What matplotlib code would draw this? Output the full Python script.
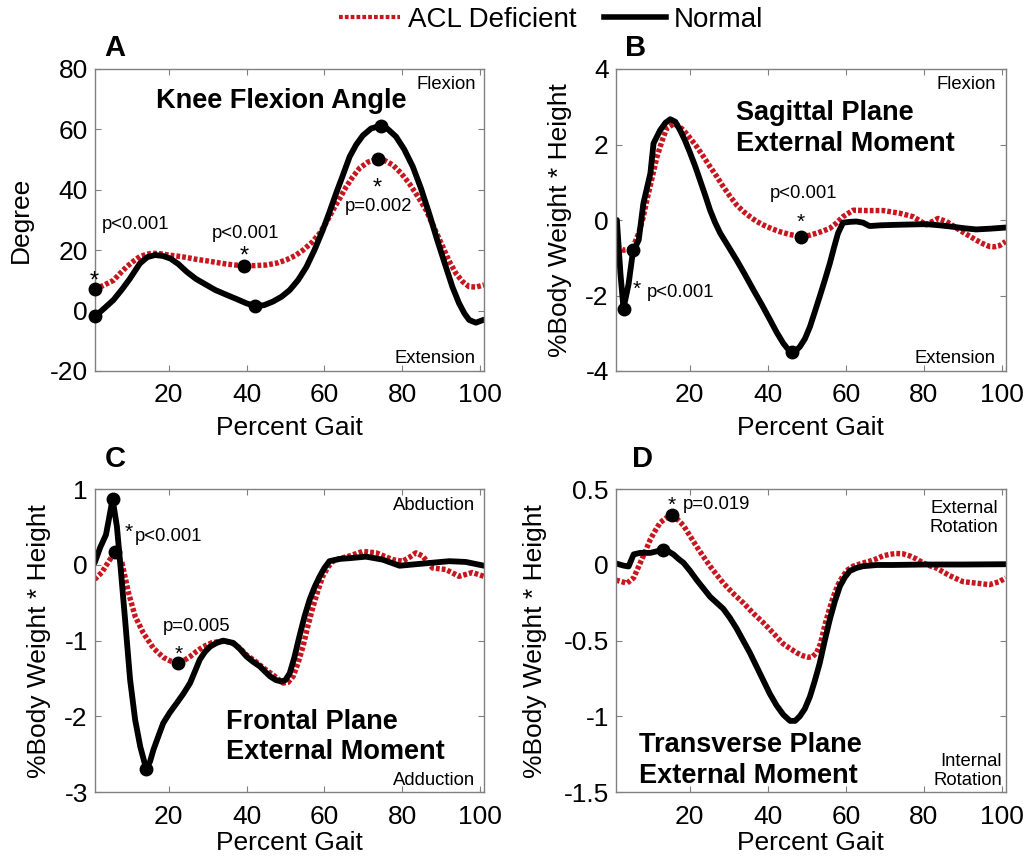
import matplotlib
matplotlib.use('Agg')
import matplotlib.pyplot as plt
from matplotlib.lines import Line2D

plt.rcParams['font.family'] = ['Liberation Sans', 'DejaVu Sans']
plt.rcParams['axes.unicode_minus'] = False

RED = '#c8161e'
GRAY = '#808080'

# ---------------- Panel A : Knee flexion angle ----------------
a_norm_x = [1, 3.5, 5.8, 8, 10, 12.6, 14.5, 16.5, 18.5, 20.5, 22.5, 24.6, 27, 29.7, 32, 34.9, 37.5, 40,
            42.3, 44.5, 46.8, 49, 51.1, 53.3, 55.4, 57.5, 59.6, 61.3, 63, 64.8, 66.5, 68.2, 69.9, 72,
            74.1, 76.2, 78.4, 80.5, 82.7, 84.8, 86.9, 89, 91.2, 92.9, 94.6, 96, 97.2, 98.9, 101]
a_norm_y = [-2, 0.8, 3.5, 7, 10.5, 15.6, 17.7, 18.4, 18.1, 17.2, 15.4, 12.9, 10.5, 8.5, 6.8, 5.2, 3.8, 2.4,
            1.5, 1.8, 3, 4.6, 6.8, 10.2, 14.5, 20.2, 26.7, 32.6, 38.8, 45, 51, 55, 58, 60.3,
            61.1, 60.2, 57.6, 53.4, 47.7, 40.5, 32.2, 23.3, 14.5, 7.8, 2.4, -1, -3.1, -4, -3]
a_acl_x = [1, 3.5, 5.8, 7.5, 9.2, 11, 12.6, 14.5, 16, 18, 20, 22.5, 24.6, 27, 29.7, 32, 34.9, 37, 39.4,
           42, 45.1, 48, 50.2, 52.5, 54.5, 56.8, 58.8, 60.5, 62.2, 64, 65.6, 67.3, 69, 71.2, 73.5,
           75.5, 77.6, 79.7, 81.8, 84, 86.1, 88.2, 90.4, 92, 93.8, 95.5, 97.2, 99, 101]
a_acl_y = [7, 8.5, 10, 12.3, 14.5, 16.4, 17.9, 18.7, 19, 18.8, 18.4, 18, 17.6, 17, 16.5, 16, 15.4, 15.1, 14.9,
           14.9, 15.1, 15.8, 16.8, 18.2, 20, 22.6, 25.6, 29.2, 33.3, 37.3, 41, 44.3, 47.1, 49.2, 50.1,
           49.7, 48.2, 45.5, 42.1, 37.8, 33.3, 27.4, 21.2, 16.5, 12.3, 9.6, 7.9, 7.8, 8.5]
a_dot_x = [1, 1, 39.4, 42.3, 74.6, 73.7]
a_dot_y = [7.1, -1.9, 14.9, 1.5, 61.1, 50.1]

# ---------------- Panel B : Sagittal plane moment ----------------
b_norm_x = [1.3, 2.2, 3.0, 4.3, 5.4, 6.9, 8.1, 9.9, 10.7, 12.4, 13.8, 15, 16.3, 17.5, 18.8, 20.1, 21.4,
            22.6, 24, 25.2, 26.5, 27.8, 30, 32, 34, 36.3, 38.5, 40.6, 42.3, 44, 45, 46.1, 47.2, 48.2, 49.5,
            50.8, 52, 53.3, 54.6, 55.9, 57, 58, 59.3, 61, 62.7, 64.4, 66.1, 69, 72.1, 76, 80.6, 84, 87.5,
            90.5, 93.4, 97, 101]
b_norm_y = [0, -1.4, -2.34, -1.7, -0.85, -0.53, 0.44, 1.24, 2.03, 2.38, 2.58, 2.67, 2.6, 2.38, 2.1, 1.77, 1.42,
            1.06, 0.64, 0.26, -0.07, -0.35, -0.72, -1.06, -1.42, -1.85, -2.25, -2.65, -2.98, -3.27, -3.4,
            -3.49, -3.46, -3.36, -3.15, -2.83, -2.45, -2.03, -1.6, -1.15, -0.72, -0.35, -0.07, -0.05, -0.04,
            -0.07, -0.16, -0.14, -0.13, -0.12, -0.11, -0.14, -0.18, -0.22, -0.25, -0.23, -0.2]
b_acl_x = [1.3, 3, 5.2, 6.9, 8, 9, 10.3, 11.6, 12.9, 14.1, 15.8, 17, 18.4, 20, 21.8, 23.5, 25.2, 27, 28.6,
           30.3, 32, 33.7, 35.4, 37, 38.8, 41, 43.1, 45.5, 48.4, 50.5, 52.5, 54.2, 55.9, 57.6, 59.3, 61.9,
           65.3, 69.6, 73.8, 77.2, 79, 80.6, 82, 83.6, 85.8, 87.5, 89.2, 91.3, 93.4, 95, 96.8, 98, 99.4, 101]
b_acl_y = [-0.7, -0.8, -0.78, -0.35, 0.05, 0.53, 1.1, 1.68, 2.1, 2.43, 2.54, 2.5, 2.38, 2.18, 1.94, 1.68, 1.41,
           1.14, 0.88, 0.63, 0.4, 0.23, 0.09, -0.03, -0.13, -0.23, -0.31, -0.38, -0.44, -0.41, -0.35, -0.29,
           -0.22, -0.08, 0.09, 0.26, 0.25, 0.25, 0.18, 0.09, -0.02, -0.13, -0.05, 0.04, -0.04, -0.15, -0.27,
           -0.4, -0.53, -0.62, -0.7, -0.71, -0.68, -0.57]
b_dot_x = [3.0, 5.4, 48.4, 46.1]
b_dot_y = [-2.35, -0.8, -0.44, -3.49]

# ---------------- Panel C : Frontal plane moment ----------------
c_norm_x = [1, 2.4, 3.9, 5.6, 6.7, 7.7, 8.8, 10.1, 11.4, 12.7, 14.2, 15.2, 16.1, 17.3, 18.6, 20.3, 22, 23.8,
            25.5, 26.8, 28, 29.3, 30.6, 32.3, 34, 36.6, 38.3, 40, 41.7, 43.4, 46, 47.5, 49, 50, 51.1, 52.3,
            53.6, 54.9, 56.2, 57.5, 58.8, 60, 61.3, 63.9, 66.5, 70.7, 75, 79.3, 83.5, 87.8, 92.1, 96.3, 101]
c_norm_y = [0.03, 0.23, 0.4, 0.87, 0.51, -0.06, -0.72, -1.52, -2.05, -2.4, -2.69, -2.6, -2.44, -2.27, -2.09,
            -1.95, -1.83, -1.7, -1.56, -1.4, -1.25, -1.15, -1.08, -1.03, -1.0, -1.03, -1.11, -1.21, -1.28,
            -1.34, -1.47, -1.52, -1.54, -1.52, -1.43, -1.22, -0.94, -0.68, -0.46, -0.29, -0.15, -0.04, 0.05,
            0.08, 0.09, 0.11, 0.07, -0.01, 0.01, 0.03, 0.05, 0.04, -0.01]
c_acl_x = [1, 2.8, 4.9, 6.2, 8, 9.7, 11.4, 13.5, 16.1, 18.6, 20.5, 22.5, 24, 25.5, 27.2, 28.9, 31, 33.1, 34.9,
           36.6, 38.3, 40, 42.2, 44.3, 47, 49.4, 50.7, 52, 53.2, 54.5, 55.8, 57.1, 58.4, 59.6, 60.9, 62.2,
           64.3, 66.5, 69.9, 73.3, 77.6, 80.1, 81.8, 83.5, 85.2, 87.8, 91.2, 94.6, 98, 101]
c_acl_y = [-0.19, -0.1, 0.07, 0.17, 0.03, -0.37, -0.68, -0.9, -1.1, -1.22, -1.27, -1.3, -1.26, -1.21, -1.14,
           -1.08, -1.03, -1.01, -1.01, -1.04, -1.1, -1.19, -1.27, -1.36, -1.46, -1.56, -1.55, -1.47, -1.3,
           -1.08, -0.8, -0.55, -0.33, -0.15, -0.03, 0.05, 0.09, 0.12, 0.18, 0.16, 0.07, 0.05, 0.1, 0.16,
           0.12, -0.04, -0.06, -0.15, -0.1, -0.15]
c_dot_x = [5.6, 6.2, 22.5, 14.2]
c_dot_y = [0.87, 0.17, -1.3, -2.69]

# ---------------- Panel D : Transverse plane moment ----------------
d_norm_x = [1.07, 3, 4.3, 5.6, 7.3, 9.9, 11.5, 13, 14.5, 15.8, 17.1, 18.4, 20.1, 21.8, 23.5, 25.2, 26.9, 28.6,
            30.3, 32, 33.7, 35.4, 37.1, 38.8, 40.5, 42.3, 44, 45.7, 47, 48.2, 49.5, 50.8, 52, 53.3, 54.6,
            55.9, 57.2, 58.5, 59.8, 61, 62.7, 64.4, 68, 72.1, 80, 90, 101]
d_norm_y = [0.01, -0.004, -0.01, 0.07, 0.08, 0.08, 0.09, 0.1, 0.09, 0.07, 0.04, 0.014, -0.04, -0.1, -0.155,
            -0.21, -0.25, -0.29, -0.35, -0.42, -0.5, -0.58, -0.67, -0.76, -0.85, -0.93, -0.99, -1.03, -1.03,
            -1.0, -0.95, -0.87, -0.77, -0.65, -0.5, -0.36, -0.24, -0.14, -0.08, -0.04, -0.02, -0.008, 0.0,
            0.0, 0.003, 0.003, 0.005]
d_acl_x = [1.07, 2.5, 3.9, 5.6, 7.3, 8.6, 9.9, 11.2, 12.4, 13.9, 15.4, 16.9, 18.4, 20.1, 21.8, 23.5, 25.2,
           26.9, 28.6, 31.2, 33.7, 36.3, 38.8, 41.4, 43.9, 45.6, 47.4, 49, 50.4, 51.5, 52.5, 53.5, 54.6,
           55.7, 56.8, 58, 59.3, 60.6, 61.9, 64, 66.1, 67.8, 69.5, 71.2, 72.9, 74.6, 76.4, 78.1, 79.8, 81.5,
           83.2, 84.9, 86.6, 88.3, 90, 93.4, 96.8, 99.4, 101]
d_acl_y = [-0.1, -0.11, -0.12, -0.085, 0.014, 0.09, 0.17, 0.23, 0.28, 0.31, 0.32, 0.3, 0.26, 0.19, 0.12,
           0.055, -0.008, -0.065, -0.12, -0.19, -0.25, -0.32, -0.38, -0.45, -0.52, -0.55, -0.58, -0.6,
           -0.61, -0.605, -0.58, -0.52, -0.4, -0.3, -0.21, -0.13, -0.07, -0.03, -0.008, 0.01, 0.025, 0.04,
           0.06, 0.07, 0.076, 0.074, 0.06, 0.04, 0.014, -0.005, -0.02, -0.045, -0.07, -0.09, -0.11, -0.12,
           -0.13, -0.11, -0.085]
d_dot_x = [13, 15.4]
d_dot_y = [0.096, 0.33]

x_ticks = [20, 40, 60, 80, 100]
a_yticks = [-20, 0, 20, 40, 60, 80]
b_yticks = [-4, -2, 0, 2, 4]
c_yticks = [-3, -2, -1, 0, 1]
d_yticks = [-1.5, -1, -0.5, 0, 0.5]
d_ytick_labels = ['-1.5', '-1', '-0.5', '0', '0.5']

legend_labels = ['ACL Deficient', 'Normal']

FS = 19
TFS = 19.5
SMALL = 13.3
ACL_STYLE = dict(color=RED, lw=3.9, linestyle=(0, (0.7, 0.38)), dash_capstyle='butt', solid_capstyle='butt')
NORM_STYLE = dict(color='black', lw=4.2, solid_capstyle='round', solid_joinstyle='round')

fig = plt.figure(figsize=(10.27, 8.61), dpi=100)
W, H = 1027.0, 861.0


def make_ax(l, t, r, b):
    return fig.add_axes([l / W, 1 - b / H, (r - l) / W, (b - t) / H])


axA = make_ax(94.7, 69, 484, 371)
axB = make_ax(615.7, 69, 1005.7, 371)
axC = make_ax(94.7, 489.3, 484, 792)
axD = make_ax(615.7, 489.3, 1005.7, 792)


def style(ax, ylim, yticks, xlab_y, ylab_x, ylabel, ylabels=None):
    ax.set_xlim(1, 101)
    ax.set_ylim(*ylim)
    ax.set_xticks(x_ticks)
    ax.set_xticklabels([str(v) for v in x_ticks])
    ax.set_yticks(yticks)
    ax.set_yticklabels(ylabels if ylabels else [str(v) for v in yticks])
    ax.tick_params(direction='in', length=4, width=0.8, color=GRAY, top=True, right=True,
                   labelsize=FS)
    ax.tick_params(axis='x', pad=9)
    ax.tick_params(axis='y', pad=5)
    for s in ax.spines.values():
        s.set_color(GRAY)
        s.set_linewidth(1.0)
    ax.set_xlabel('Percent Gait', fontsize=FS)
    ax.xaxis.set_label_coords(0.5, xlab_y)
    ax.set_ylabel(ylabel, fontsize=FS)
    ax.yaxis.set_label_coords(ylab_x, 0.5)


def star(ax, x, y, fs):
    ax.annotate('*', xy=(x, y), xytext=(0, -0.59 * fs), textcoords='offset points',
                ha='center', va='baseline', fontsize=fs, annotation_clip=False)


def draw(ax, ax_x, ax_y, nx, ny, dx, dy):
    ax.plot(ax_x, ax_y, **ACL_STYLE)
    ax.plot(nx, ny, **NORM_STYLE)
    ax.plot(dx, dy, 'o', color='black', ms=9, clip_on=False, zorder=5)


MOM = '%Body Weight * Height'

# Panel A
draw(axA, a_acl_x, a_acl_y, a_norm_x, a_norm_y, a_dot_x, a_dot_y)
style(axA, (-20, 80), a_yticks, -0.148, -0.158, 'Degree')
axA.text(49, 67.0, 'Knee Flexion Angle', fontsize=TFS, fontweight='bold', ha='center', va='baseline')
axA.text(98.9, 73.3, 'Flexion', fontsize=SMALL, ha='right', va='baseline')
axA.text(98.9, -17.5, 'Extension', fontsize=SMALL, ha='right', va='baseline')
axA.text(2.8, 26.9, 'p<0.001', fontsize=SMALL, ha='left', va='baseline')
axA.text(39.7, 23.9, 'p<0.001', fontsize=SMALL, ha='center', va='baseline')
axA.text(73.9, 33.1, 'p=0.002', fontsize=SMALL, ha='center', va='baseline')
star(axA, 1, 12.3, 17)
star(axA, 39.5, 20.6, 17)
star(axA, 73.6, 43.2, 17)

# Panel B
draw(axB, b_acl_x, b_acl_y, b_norm_x, b_norm_y, b_dot_x, b_dot_y)
style(axB, (-4, 4), b_yticks, -0.148, -0.113, MOM)
axB.text(31.9, 1.84, 'Sagittal Plane\nExternal Moment', fontsize=TFS, fontweight='bold', ha='left',
         va='baseline', linespacing=1.22)
axB.text(98.5, 3.46, 'Flexion', fontsize=SMALL, ha='right', va='baseline')
axB.text(98.5, -3.8, 'Extension', fontsize=SMALL, ha='right', va='baseline')
axB.text(49.1, 0.574, 'p<0.001', fontsize=SMALL, ha='center', va='baseline')
star(axB, 48.5, 0.106, 15)
star(axB, 6.4, -1.66, 15)
axB.text(9.0, -2.05, 'p<0.001', fontsize=SMALL, ha='left', va='baseline')

# Panel C
draw(axC, c_acl_x, c_acl_y, c_norm_x, c_norm_y, c_dot_x, c_dot_y)
style(axC, (-3, 1), c_yticks, -0.129, -0.113, MOM)
axC.text(34.7, -2.567, 'Frontal Plane\nExternal Moment', fontsize=TFS, fontweight='bold', ha='left',
         va='baseline', linespacing=1.22)
axC.text(98.8, 0.72, 'Abduction', fontsize=SMALL, ha='right', va='baseline')
axC.text(98.8, -2.907, 'Adduction', fontsize=SMALL, ha='right', va='baseline')
star(axC, 9.7, 0.523, 15)
axC.text(11.4, 0.316, 'p<0.001', fontsize=SMALL, ha='left', va='baseline')
axC.text(27.3, -0.876, 'p=0.005', fontsize=SMALL, ha='center', va='baseline')
star(axC, 22.6, -1.09, 15)

# Panel D
draw(axD, d_acl_x, d_acl_y, d_norm_x, d_norm_y, d_dot_x, d_dot_y)
style(axD, (-1.5, 0.5), d_yticks, -0.129, -0.175, MOM, d_ytick_labels)
axD.text(6.9, -1.438, 'Transverse Plane\nExternal Moment', fontsize=TFS, fontweight='bold', ha='left',
         va='baseline', linespacing=1.22)
axD.text(99, 0.22, 'External\nRotation', fontsize=SMALL, ha='right', va='baseline', linespacing=1.15)
axD.text(100.1, -1.454, 'Internal\nRotation', fontsize=SMALL, ha='right', va='baseline', linespacing=1.15)
star(axD, 15.4, 0.438, 15)
axD.text(18.2, 0.368, 'p=0.019', fontsize=SMALL, ha='left', va='baseline')

# Panel letters
for lab, (px, py) in zip('ABCD', [(115, 48), (636, 48), (115, 459), (643, 459)]):
    fig.text(px / W, 1 - py / H, lab, fontsize=21, fontweight='bold', ha='center', va='center')

# Legend
handles = [Line2D([], [], color=RED, lw=3.0, linestyle=(0, (0.9, 0.5)), dash_capstyle='butt'),
           Line2D([], [], color='black', lw=4.0)]
fig.legend(handles, legend_labels, loc='center', bbox_to_anchor=(551 / W, 1 - 20 / H), ncol=2,
           frameon=False, fontsize=20, handlelength=2.2, handletextpad=0.3, columnspacing=1.0)

fig.savefig('out.png', dpi=100)
